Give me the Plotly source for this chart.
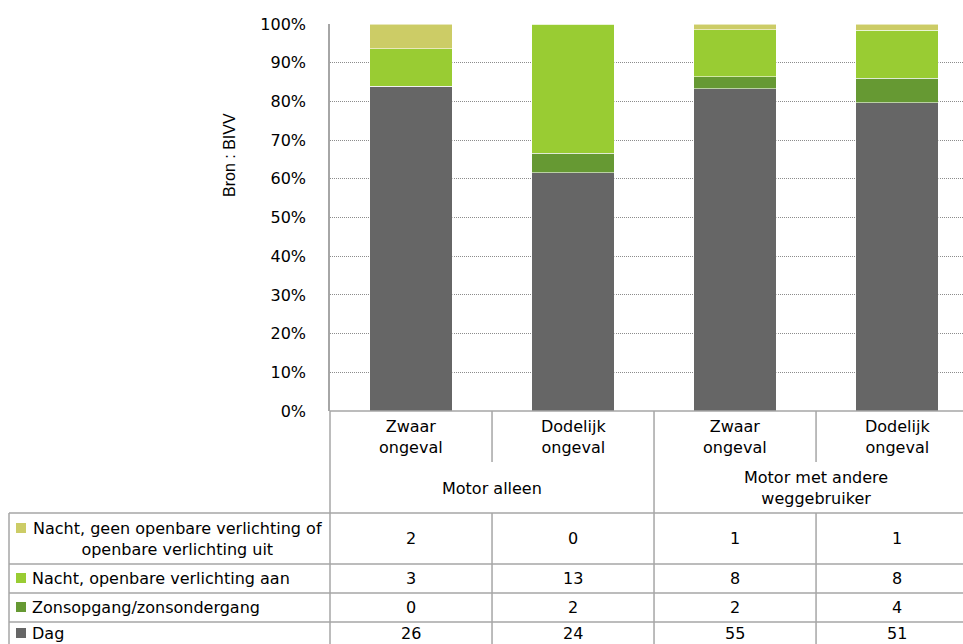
import plotly.graph_objects as go

# ---- data -------------------------------------------------------------
categories = ["Zwaar<br>ongeval", "Dodelijk<br>ongeval", "Zwaar<br>ongeval", "Dodelijk<br>ongeval"]
groups = ["Motor alleen", "Motor met andere<br>weggebruiker"]

series_names = [
    "Dag",
    "Zonsopgang/zonsondergang",
    "Nacht, openbare verlichting aan",
    "Nacht, geen openbare verlichting of<br>openbare verlichting uit",
]
dag = [26, 24, 55, 51]
zonsopgang = [0, 2, 2, 4]
nacht_aan = [3, 13, 8, 8]
nacht_geen = [2, 0, 1, 1]

series_values = [dag, zonsopgang, nacht_aan, nacht_geen]
series_colors = ["#666666", "#669933", "#99CC33", "#CCCC66"]

y_ticks = list(range(0, 101, 10))

# ---- layout helpers -----------------------------------------------------
W, H = 963, 644
FONT = "DejaVu Sans"
FS = 16
GRID = "#A6A6A6"


def px_y(p):
    return 1 - p / H


def px_x(p):
    return p / W


x_pos = list(range(len(categories)))

fig = go.Figure()
for name, vals, col in zip(series_names, series_values, series_colors):
    fig.add_trace(go.Bar(
        x=x_pos, y=vals, name=name, width=0.51,
        marker=dict(color=col, line=dict(color="rgba(255,255,255,0.55)", width=1)),
        showlegend=False,
    ))

fig.update_layout(
    width=W, height=H, autosize=False,
    margin=dict(l=0, r=0, t=0, b=0),
    paper_bgcolor="white", plot_bgcolor="white",
    barmode="stack", barnorm="percent",
    font=dict(family=FONT, size=FS, color="#000000"),
    xaxis=dict(
        domain=[px_x(330), 1], range=[-0.5, 3.407],
        showticklabels=False, showgrid=False, zeroline=False,
        showline=False, fixedrange=True, automargin=False,
    ),
    yaxis=dict(
        domain=[px_y(411), px_y(24)], range=[0, 100],
        tickvals=y_ticks, ticktext=[f"{v}%" for v in y_ticks],
        showgrid=True, gridcolor="#8C8C8C", griddash="1px,1px", gridwidth=1,
        zeroline=False, showline=True, linecolor=GRID, linewidth=1.5,
        ticks="", ticklabelstandoff=19, automargin=False,
        tickfont=dict(family=FONT, size=FS, color="#000000"),
        fixedrange=True,
    ),
)

shapes = []


def vline(x, y0, y1, xref="x"):
    shapes.append(dict(type="line", xref=xref, yref="paper", x0=x, x1=x,
                       y0=px_y(y0), y1=px_y(y1), line=dict(color=GRID, width=1.5)))


def hline(y, x0, x1):
    shapes.append(dict(type="line", xref="paper", yref="paper", x0=x0, x1=x1,
                       y0=px_y(y), y1=px_y(y), line=dict(color=GRID, width=1.5)))


# category axis line and table grid
hline(411, px_x(330), 1)
vline(px_x(330), 411, H, xref="paper")
for b in (0.5, 2.5):
    vline(b, 411, 462)
    vline(b, 513, H)
vline(1.5, 411, H)
row_lines = [513, 564, 593, 622]
for r in row_lines:
    hline(r, px_x(9), 1)
vline(px_x(9), 513, H, xref="paper")

annotations = []


def label(x, y, text, xref="x", xanchor="center", align="center", **kw):
    annotations.append(dict(x=x, y=y, xref=xref, yref="paper", text=text,
                            showarrow=False, xanchor=xanchor, yanchor="middle",
                            align=align, font=kw.get("font", dict(size=FS))))


# category labels and group labels
for i, c in enumerate(categories):
    label(i, px_y(437), c)
for g, gx in zip(groups, (0.5, 2.5)):
    label(gx, px_y(488), g)

# data table rows (top row = last series)
row_centers = [538.5, 578.5, 607.5, 633]
row_order = list(reversed(range(len(series_names))))
key_tops = [523, 573, 602, 628]
for r, si in enumerate(row_order):
    vals = series_values[si]
    for i, v in enumerate(vals):
        label(i, px_y(row_centers[r]), str(v))
    shapes.append(dict(type="rect", xref="paper", yref="paper",
                       x0=px_x(16), x1=px_x(26), y0=px_y(key_tops[r]), y1=px_y(key_tops[r] + 10),
                       fillcolor=series_colors[si], line=dict(width=0)))
    if r == 0:
        label(px_x(177), px_y(row_centers[r]), series_names[si], xref="paper")
    else:
        label(px_x(30), px_y(row_centers[r]), series_names[si], xref="paper",
              xanchor="left", align="left")

# source note
annotations.append(dict(x=px_x(229), y=px_y(155), xref="paper", yref="paper",
                        text="Bron : BIVV", textangle=-90, showarrow=False,
                        xanchor="center", yanchor="middle",
                        font=dict(family="Liberation Sans", size=16, color="#000000")))

fig.update_layout(shapes=shapes, annotations=annotations)
fig.write_html("out.html")
